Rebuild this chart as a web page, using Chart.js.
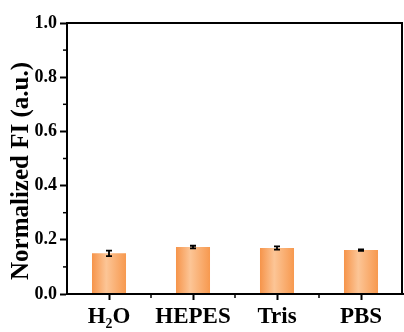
<!DOCTYPE html>
<html>
<head>
<meta charset="utf-8">
<script src="https://cdn.jsdelivr.net/npm/chart.js@4/dist/chart.umd.min.js"></script>
<style>
  html, body { margin: 0; padding: 0; background: #fff; }
  #wrap { width: 404px; height: 332px; }
</style>
</head>
<body>
<div id="wrap"><canvas id="chart" width="404" height="332"></canvas></div>
<script>
const categories = ['H\u2082O', 'HEPES', 'Tris', 'PBS'];
const fiValues = [0.150, 0.173, 0.170, 0.162];
const fiErrors = [0.010, 0.005, 0.006, 0.003];
const yTicks = [0.0, 0.2, 0.4, 0.6, 0.8, 1.0];
const yMinorTicks = [0.1, 0.3, 0.5, 0.7, 0.9];

const FONT = "'Liberation Serif', 'Times New Roman', serif";
const BAR_PCT = 0.405;

// horizontal shading on each bar, lighter in the middle
function barGradient(ctx) {
    const chart = ctx.chart;
    const xs = chart.scales.x;
    if (!xs || !chart.chartArea) return '#f9a865';
    const cx = xs.getPixelForValue(ctx.dataIndex);
    const w = (xs.width / categories.length) * BAR_PCT;
    const g = chart.ctx.createLinearGradient(cx - w / 2, 0, cx + w / 2, 0);
    g.addColorStop(0, '#f6944a');
    g.addColorStop(0.42, '#fcc596');
    g.addColorStop(1, '#f7994f');
    return g;
}

const extrasPlugin = {
    id: 'extras',
    afterDatasetsDraw(chart) {
        const { ctx, chartArea, scales } = chart;
        const xs = scales.x, ys = scales.y;
        ctx.save();
        ctx.strokeStyle = '#000';

        // error bars
        ctx.lineWidth = 1.8;
        fiValues.forEach((v, i) => {
            const x = xs.getPixelForValue(i);
            const yHi = ys.getPixelForValue(v + fiErrors[i]);
            const yLo = ys.getPixelForValue(v - fiErrors[i]);
            ctx.beginPath();
            ctx.moveTo(x, yHi); ctx.lineTo(x, yLo);
            ctx.moveTo(x - 3, yHi); ctx.lineTo(x + 3, yHi);
            ctx.moveTo(x - 3, yLo); ctx.lineTo(x + 3, yLo);
            ctx.stroke();
        });

        // minor ticks
        ctx.lineWidth = 1.5;
        yMinorTicks.forEach(t => {
            const y = ys.getPixelForValue(t);
            ctx.beginPath();
            ctx.moveTo(chartArea.left - 4, y); ctx.lineTo(chartArea.left, y);
            ctx.stroke();
        });
        const step = xs.width / categories.length;
        for (let i = 1; i < categories.length; i++) {
            const x = chartArea.left + step * i;
            ctx.beginPath();
            ctx.moveTo(x, chartArea.bottom); ctx.lineTo(x, chartArea.bottom + 4);
            ctx.stroke();
        }

        // frame
        ctx.lineWidth = 2;
        ctx.strokeRect(chartArea.left, chartArea.top, chartArea.right - chartArea.left - 1, chartArea.bottom - chartArea.top);
        ctx.restore();
    }
};

new Chart(document.getElementById('chart'), {
    type: 'bar',
    data: {
        labels: categories,
        datasets: [{
            data: fiValues,
            backgroundColor: barGradient,
            borderWidth: 0,
            barPercentage: BAR_PCT,
            categoryPercentage: 1
        }]
    },
    options: {
        responsive: false,
        animation: false,
        events: [],
        layout: { padding: { top: 23, right: 1, left: 0, bottom: 0 } },
        plugins: {
            legend: { display: false },
            tooltip: { enabled: false }
        },
        scales: {
            x: {
                offset: true,
                grid: {
                    offset: false,
                    drawOnChartArea: false,
                    tickLength: 6,
                    tickWidth: 2,
                    tickColor: '#000'
                },
                border: { display: true, color: '#000', width: 2 },
                ticks: {
                    color: '#000',
                    padding: 3,
                    maxRotation: 0,
                    font: { family: FONT, size: 23, weight: 'bold' }
                },
                afterFit(scale) { scale.height = 38; }
            },
            y: {
                min: 0,
                max: 1,
                afterBuildTicks(scale) {
                    scale.ticks = yTicks.map(v => ({ value: v }));
                },
                grid: {
                    drawOnChartArea: false,
                    tickLength: 7,
                    tickWidth: 2,
                    tickColor: '#000'
                },
                border: { display: true, color: '#000', width: 2 },
                ticks: {
                    color: '#000',
                    padding: 3,
                    font: { family: FONT, size: 18, weight: 'bold' },
                    callback: v => Number(v).toFixed(1)
                },
                title: {
                    display: true,
                    text: 'Normalized FI (a.u.)    ',
                    color: '#000',
                    padding: { top: 7, bottom: 0 },
                    font: { family: FONT, size: 25, weight: 'bold' }
                },
                afterFit(scale) { scale.width = 67; }
            }
        }
    },
    plugins: [extrasPlugin]
});
</script>
</body>
</html>
